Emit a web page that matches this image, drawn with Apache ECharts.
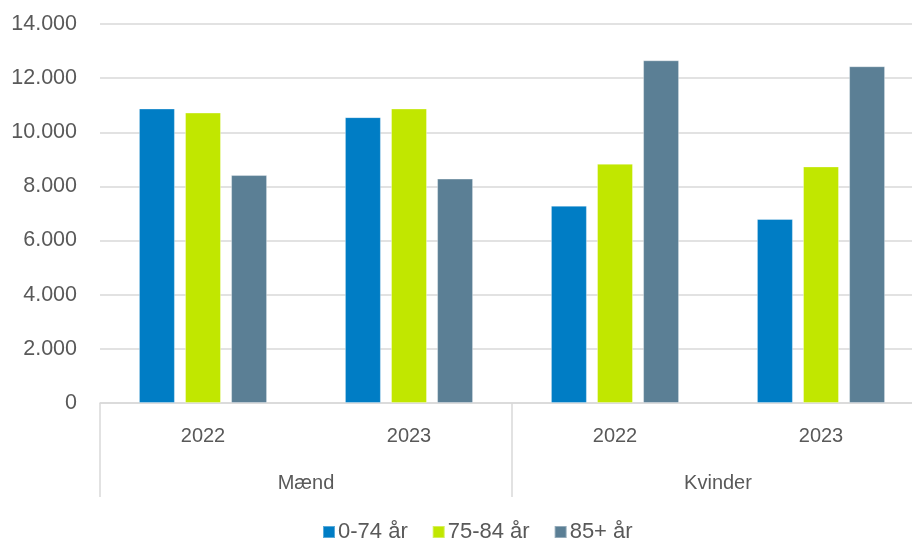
<!DOCTYPE html>
<html>
<head>
<meta charset="utf-8">
<script src="https://cdn.jsdelivr.net/npm/echarts@6/dist/echarts.min.js"></script>
<style>html,body{margin:0;padding:0;background:#fff;overflow:hidden;width:912px;height:541px;}#c{width:924px;height:541px;}</style>
</head>
<body>
<div id="c"></div>
<script>
const years = ['2022', '2023', '2022', '2023'];
const groups = ['Mænd', 'Kvinder'];
const seriesNames = ['0-74 år', '75-84 år', '85+ år'];
const s0_74 = [10880, 10560, 7290, 6800];
const s75_84 = [10730, 10880, 8840, 8740];
const s85 = [8420, 8290, 12660, 12440];
const colors = ['#007DC5', '#C1E700', '#5B7F95'];
const yTicks = {min: 0, max: 14000, interval: 2000};

const font = 'Liberation Sans';
const chart = echarts.init(document.getElementById('c'));
const values = [s0_74, s75_84, s85];
chart.setOption({
  animation: false,
  color: colors,
  textStyle: {fontFamily: font},
  grid: {left: 100, right: 0, top: 24, bottom: 138},
  legend: {
    data: seriesNames, top: 520, left: 322, padding: 0, itemWidth: 12, itemHeight: 12, itemGap: 24,
    icon: 'rect',
    textStyle: {fontFamily: font, fontSize: 22, lineHeight: 24, color: '#595959', padding: [0, 0, 0, -2]}
  },
  xAxis: [{
    type: 'category', data: years, position: 'bottom',
    axisLine: {show: true, lineStyle: {color: '#D9D9D9', width: 1.5}},
    axisTick: {show: false},
    axisLabel: {margin: 23, fontSize: 20, color: '#595959', fontFamily: font}
  }, {
    type: 'category', data: groups, position: 'bottom',
    axisLine: {show: false},
    axisTick: {show: true, length: 94, lineStyle: {color: '#D9D9D9', width: 1.5}},
    axisLabel: {margin: 70, fontSize: 20, color: '#595959', fontFamily: font}
  }],
  yAxis: {
    type: 'value', min: yTicks.min, max: yTicks.max, interval: yTicks.interval,
    axisLine: {show: false}, axisTick: {show: false},
    splitLine: {lineStyle: {color: '#D9D9D9', width: 1.5}},
    axisLabel: {
      margin: 23, fontSize: 21.5, color: '#595959', fontFamily: font,
      formatter: v => v === 0 ? '0' : v.toLocaleString('de-DE')
    }
  },
  series: seriesNames.map((n, i) => ({
    name: n, type: 'bar', xAxisIndex: 0, data: values[i],
    barWidth: 36, barGap: '28%',
    itemStyle: {color: colors[i], borderColor: 'rgba(255,255,255,0.35)', borderWidth: 1}
  }))
});
</script>
</body>
</html>
